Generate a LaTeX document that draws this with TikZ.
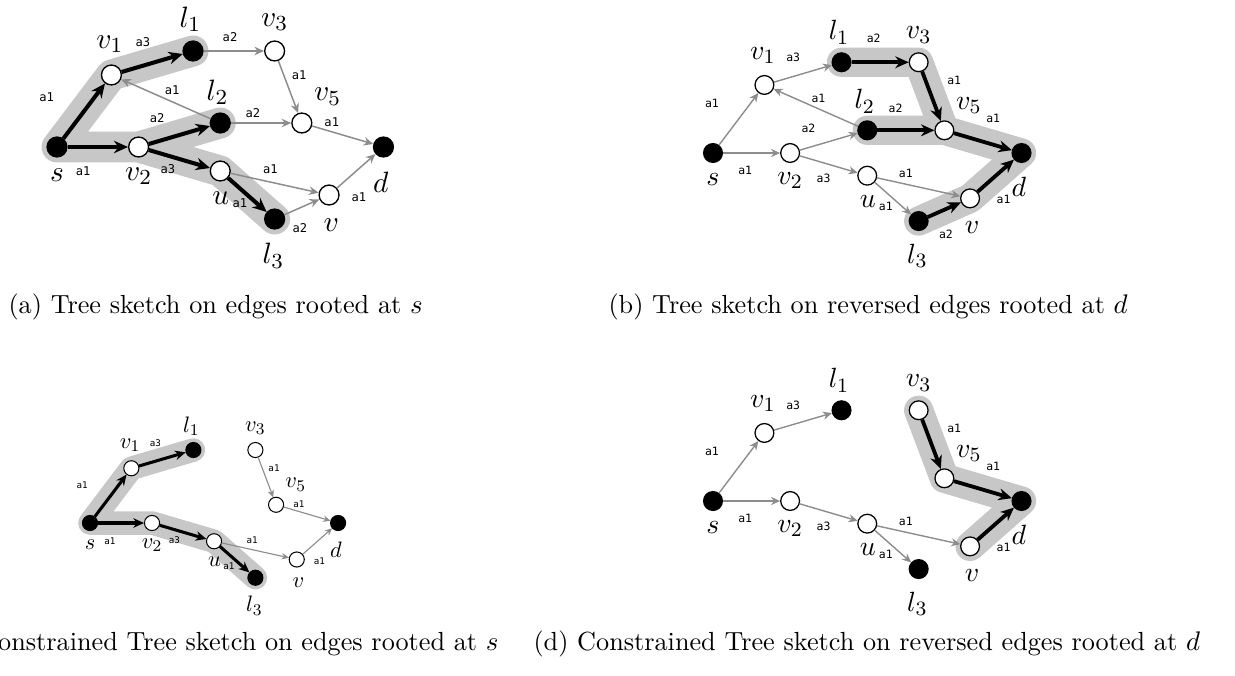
\documentclass[tikz,border=0pt]{standalone}
\usepackage{fontspec}
\newfontfamily\edgefont{DejaVu Sans Mono}
\usetikzlibrary{arrows.meta,backgrounds}
\newcommand\pk{1}

% nodes shared by all four sketches (l2 is added where it is kept)
\newcommand\basenodes{%
  \node[bv] (s)  at (0,0)   {};
  \node[wv] (v1) at (2,3)   {};
  \node[bv] (l1) at (5,4)   {};
  \node[wv] (v3) at (8,4)   {};
  \node[wv] (v5) at (9,1)   {};
  \node[wv] (v2) at (3,0)   {};
  \node[wv] (u)  at (6,-1)  {};
  \node[wv] (v)  at (10,-2) {};
  \node[bv] (l3) at (8,-3)  {};
  \node[bv] (d)  at (12,0)  {};
  \node[lab] (s-t)  at (0,-1.17)    {$s$};
  \node[lab] (v1-t) at (1.94,4.28)  {$v_1$};
  \node[lab] (l1-t) at (4.9,5.32)   {$l_1$};
  \node[lab] (v3-t) at (8,5.2)      {$v_3$};
  \node[lab] (v5-t) at (9.95,2.1)   {$v_5$};
  \node[lab] (v2-t) at (3,-1.22)    {$v_2$};
  \node[lab] (u-t)  at (6.02,-2.13) {$u$};
  \node[lab] (d-t)  at (11.9,-1.47) {$d$};
  \node[lab] (v-t)  at (10.08,-3.27){$v$};
  \node[lab] (l3-t) at (7.95,-4.53) {$l_3$};
}

\begin{document}
\begin{tikzpicture}[x=0.372pt, y=-0.372pt,
  wv/.style={circle, draw=black, fill=white, line width=\pk*0.5pt, minimum size=7.4pt, inner sep=0pt},
  bv/.style={wv, fill=black},
  lab/.style={font=\fontsize{11}{13}\selectfont, inner sep=0pt},
  elab/.style={font=\edgefont\fontsize{4.5}{5}\selectfont, inner sep=0pt},
  gedge/.style={draw=black!45, line width=\pk*0.55pt, -{Stealth[length=0pt 6.5, width=0pt 5.8]}},
  tedge/.style={draw=black, line width=\pk*1.5pt, -{Stealth[length=0pt 3.5, width=0pt 3.1]}},
  band/.style={draw=black!22, line width=\pk*11.5pt, line cap=round, line join=round},
  captxt/.style={inner sep=0pt, font=\fontsize{9.75}{12}\selectfont}
]
\useasboundingbox (0,0) rectangle (1235,675);

% (a)
\begin{scope}[shift={(57,147)}, x=10.12pt, y=8.93pt, transform shape]
\basenodes
\node[bv] (l2) at (6,1) {};
\node[lab] (l2-t) at (5.9,2.28) {$l_2$};
\begin{scope}[on background layer]
  \draw[band] (l1.center) -- (v1.center) -- (s.center) -- (v2.center) -- (l2.center)
              (v2.center) -- (u.center) -- (l3.center);
\end{scope}
\draw[tedge] (s) -- (v1);  \node[elab] (sv1)  at (-0.38,2.08) {a1};
\draw[tedge] (v1) -- (l1); \node[elab] (v1l1) at (3.16,4.35)  {a3};
\draw[tedge] (s) -- (v2);  \node[elab] (sv2)  at (0.96,-1.0)  {a1};
\draw[tedge] (v2) -- (l2); \node[elab] (v2l2) at (3.68,1.21)  {a2};
\draw[tedge] (v2) -- (u);  \node[elab] (v2u)  at (4.08,-0.92) {a3};
\draw[tedge] (u) -- (l3);  \node[elab] (ul3)  at (6.72,-2.36) {a1};
\draw[gedge] (l1) -- (v3); \node[elab] (l1v3) at (6.36,4.58)  {a2};
\draw[gedge] (v3) -- (v5); \node[elab] (v3v5) at (8.9,2.98)   {a1};
\draw[gedge] (l2) -- (v1); \node[elab] (l2v1) at (4.23,2.38)  {a1};
\draw[gedge] (l2) -- (v5); \node[elab] (l2v5) at (7.2,1.42)   {a2};
\draw[gedge] (v5) -- (d);  \node[elab] (v5d)  at (10.1,1.02)  {a1};
\draw[gedge] (u) -- (v);   \node[elab] (uv)   at (7.84,-0.92) {a1};
\draw[gedge] (l3) -- (v);  \node[elab] (l3v)  at (8.93,-3.38) {a2};
\draw[gedge] (v) -- (d);   \node[elab] (vd)   at (11.1,-2.1)  {a1};
\end{scope}

% (b)
\begin{scope}[shift={(713,153)}, x=10.12pt, y=8.93pt, scale=0.945, transform shape]
\def\pk{0.945}
\basenodes
\node[bv] (l2) at (6,1) {};
\node[lab] (l2-t) at (5.9,2.28) {$l_2$};
\begin{scope}[on background layer]
  \draw[band] (l1.center) -- (v3.center) -- (v5.center) -- (d.center) -- (v.center) -- (l3.center)
              (l2.center) -- (v5.center);
\end{scope}
\draw[gedge] (s) -- (v1);  \node[elab] (sv1)  at (-0.04,2.19) {a1};
\draw[gedge] (v1) -- (l1); \node[elab] (v1l1) at (3.12,4.21)  {a3};
\draw[gedge] (s) -- (v2);  \node[elab] (sv2)  at (1.25,-0.75) {a1};
\draw[gedge] (v2) -- (l2); \node[elab] (v2l2) at (3.71,1.1)   {a2};
\draw[gedge] (l2) -- (v1); \node[elab] (l2v1) at (4.1,2.41)   {a1};
\draw[gedge] (v2) -- (u);  \node[elab] (v2u)  at (4.3,-1.1)   {a3};
\draw[gedge] (u) -- (v);   \node[elab] (uv)   at (7.5,-0.88)  {a1};
\draw[gedge] (u) -- (l3);  \node[elab] (ul3)  at (6.72,-2.37) {a1};
\draw[tedge] (l1) -- (v3); \node[elab] (l1v3) at (6.25,5.04)  {a2};
\draw[tedge] (v3) -- (v5); \node[elab] (v3v5) at (9.38,3.2)   {a1};
\draw[tedge] (l2) -- (v5); \node[elab] (l2v5) at (7.1,1.97)   {a2};
\draw[tedge] (v5) -- (d);  \node[elab] (v5d)  at (10.9,1.54)  {a1};
\draw[tedge] (l3) -- (v);  \node[elab] (l3v)  at (9.06,-3.6)  {a2};
\draw[tedge] (v) -- (d);   \node[elab] (vd)   at (11.3,-2.06) {a1};
\end{scope}

% (c)
\begin{scope}[shift={(90,523)}, x=10.12pt, y=8.93pt, scale=0.76, transform shape]
\def\pk{0.76}
\basenodes
\begin{scope}[on background layer]
  \draw[band] (l1.center) -- (v1.center) -- (s.center) -- (v2.center) -- (u.center) -- (l3.center);
\end{scope}
\draw[tedge] (s) -- (v1);  \node[elab] (sv1)  at (-0.38,2.08) {a1};
\draw[tedge] (v1) -- (l1); \node[elab] (v1l1) at (3.16,4.35)  {a3};
\draw[tedge] (s) -- (v2);  \node[elab] (sv2)  at (0.96,-1.0)  {a1};
\draw[tedge] (v2) -- (u);  \node[elab] (v2u)  at (4.08,-0.92) {a3};
\draw[tedge] (u) -- (l3);  \node[elab] (ul3)  at (6.72,-2.36) {a1};
\draw[gedge] (v3) -- (v5); \node[elab] (v3v5) at (8.9,2.98)   {a1};
\draw[gedge] (v5) -- (d);  \node[elab] (v5d)  at (10.1,1.02)  {a1};
\draw[gedge] (u) -- (v);   \node[elab] (uv)   at (7.84,-0.92) {a1};
\draw[gedge] (v) -- (d);   \node[elab] (vd)   at (11.1,-2.1)  {a1};
\end{scope}

% (d)
\begin{scope}[shift={(713,501)}, x=10.12pt, y=8.93pt, scale=0.945, transform shape]
\def\pk{0.945}
\basenodes
\begin{scope}[on background layer]
  \draw[band] (v3.center) -- (v5.center) -- (d.center) -- (v.center);
\end{scope}
\draw[gedge] (s) -- (v1);  \node[elab] (sv1)  at (-0.04,2.19) {a1};
\draw[gedge] (v1) -- (l1); \node[elab] (v1l1) at (3.12,4.21)  {a3};
\draw[gedge] (s) -- (v2);  \node[elab] (sv2)  at (1.25,-0.75) {a1};
\draw[gedge] (v2) -- (u);  \node[elab] (v2u)  at (4.3,-1.1)   {a3};
\draw[gedge] (u) -- (v);   \node[elab] (uv)   at (7.5,-0.88)  {a1};
\draw[gedge] (u) -- (l3);  \node[elab] (ul3)  at (6.72,-2.37) {a1};
\draw[tedge] (v3) -- (v5); \node[elab] (v3v5) at (9.38,3.2)   {a1};
\draw[tedge] (v5) -- (d);  \node[elab] (v5d)  at (10.9,1.54)  {a1};
\draw[tedge] (v) -- (d);   \node[elab] (vd)   at (11.3,-2.06) {a1};
\end{scope}

% captions
\node[captxt, anchor=base west] (capa) at (8,313)   {(a) Tree sketch on edges rooted at $s$};
\node[captxt, anchor=base west] (capb) at (608,313) {(b) Tree sketch on reversed edges rooted at $d$};
\node[captxt, anchor=base east] (capc) at (499,650) {(c) Constrained Tree sketch on edges rooted at $s$};
\node[captxt, anchor=base west] (capd) at (533,650) {(d) Constrained Tree sketch on reversed edges rooted at $d$};
\end{tikzpicture}
\end{document}
